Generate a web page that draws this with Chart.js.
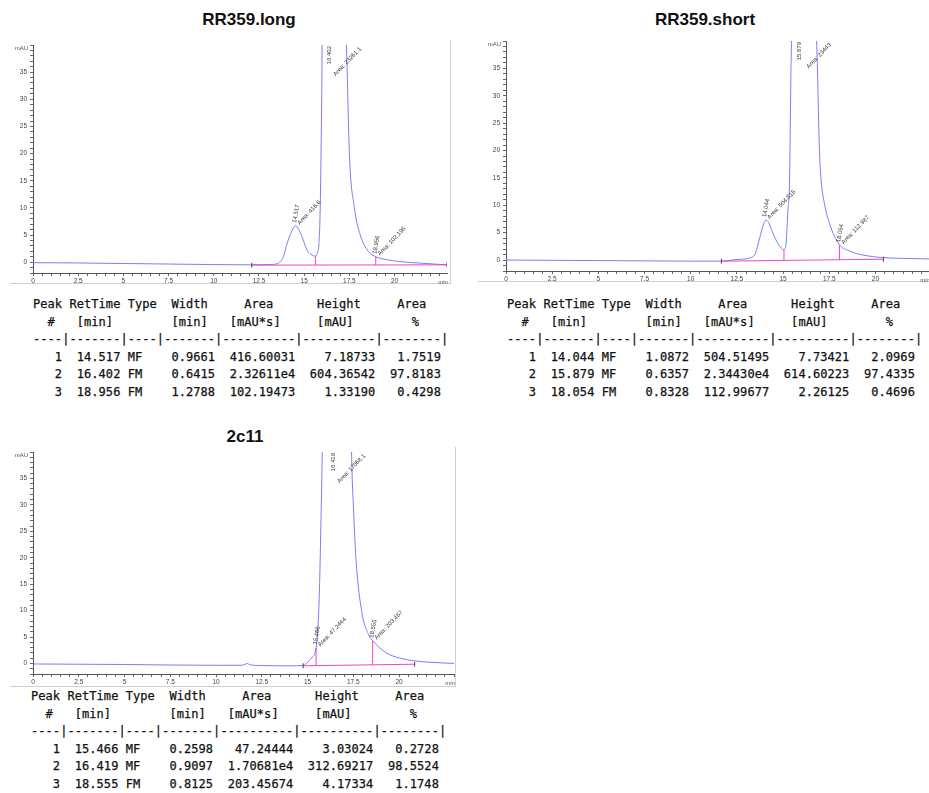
<!DOCTYPE html>
<html>
<head>
<meta charset="utf-8">
<script src="https://cdn.jsdelivr.net/npm/chart.js@4.4.1/dist/chart.umd.min.js"></script>
<style>
  body { margin:0; background:#fff; width:929px; height:793px; position:relative; overflow:hidden; font-family:"Liberation Sans", Arial, sans-serif; }
  .title { position:absolute; font-weight:bold; font-size:17px; line-height:20px; color:#111; transform:translateX(-50%); white-space:nowrap; }
  .rule { position:absolute; border-color:#cfcfcf; border-style:solid; border-width:0; }
  canvas { position:absolute; }
  pre.report { position:absolute; margin:0; font-family:"DejaVu Sans Mono", monospace; font-size:12px; line-height:17.6px; letter-spacing:0.06px; color:#111; -webkit-text-stroke:0.25px #111; }
</style>
</head>
<body>
<div class="title" style="left:249px;top:10px">RR359.long</div>
<div class="title" style="left:705px;top:10px">RR359.short</div>
<div class="title" style="left:245px;top:427px">2c11</div>

<div class="rule" style="left:10px;top:40px;width:440px;height:243px;border-right-width:1px;border-bottom-width:1px"></div>
<div class="rule" style="left:478px;top:281px;width:451px;height:0;border-top-width:1px"></div>
<div class="rule" style="left:10px;top:447px;width:445px;height:239px;border-right-width:1px;border-bottom-width:1px"></div>

<canvas id="cLong" width="452" height="249" style="left:0;top:38px"></canvas>
<canvas id="cShort" width="459" height="251" style="left:470px;top:34px"></canvas>
<canvas id="cC11" width="458" height="243" style="left:0;top:445px"></canvas>

<pre class="report" id="tLong" style="left:33px;top:296px"></pre>
<pre class="report" id="tShort" style="left:507px;top:296px"></pre>
<pre class="report" id="tC11" style="left:31px;top:688px"></pre>

<script>
// RR359.long - segnale (min, mAU)
const longTime = [0, 2.5, 5, 7.5, 10, 12, 13, 13.5, 13.68, 13.85, 14.05, 14.33, 14.52, 14.7, 14.88, 15.16, 15.44, 15.62, 15.72, 15.81, 15.88, 15.94, 15.99, 16.1, 16.25, 16.4, 16.6, 16.85, 17.1, 17.3, 17.38, 17.5, 17.78, 18.1, 18.55, 18.96, 19.5, 20.3, 21.5, 22.9];
const longSignal = [-0.1, -0.15, -0.25, -0.35, -0.45, -0.5, -0.45, -0.3, 0.1, 1.0, 3.4, 5.8, 6.7, 6.0, 4.7, 2.2, 1.3, 1.1, 1.6, 3.2, 9, 22, 40, 150, 450, 604, 450, 200, 85, 45, 35, 20, 10, 5, 2, 1.0, 0.5, 0.1, -0.2, -0.5];
const longBaseX = [12.1, 22.9];
const longBaseY = [-0.55, -0.5];
const longDropX = [15.62, 18.96];
const longDropTop = [1.1, 1.0];
const longDropBottom = [-0.54, -0.52];
const longPeakTimes = [14.517, 16.402, 18.956];
const longPeakTops = [6.7, 604.4, 1.0];
const longPeakAreas = ['416.6', '23261.1', '102.195'];

// RR359.short
const shortTime = [0, 2.5, 5, 7.5, 10, 11.66, 12.5, 13.2, 13.5, 13.73, 13.95, 14.09, 14.25, 14.45, 14.72, 14.9, 15.05, 15.17, 15.26, 15.35, 15.42, 15.47, 15.6, 15.88, 16.15, 16.45, 16.7, 16.8, 16.86, 16.97, 17.06, 17.24, 17.51, 18.05, 18.5, 18.96, 20.2, 21.5, 22.9];
const shortSignal = [0, -0.05, -0.1, -0.15, -0.2, -0.2, 0.1, 0.4, 1.2, 4.0, 6.6, 7.3, 6.6, 4.9, 3.0, 2.2, 1.9, 3.3, 9, 14.6, 33, 48, 200, 614.6, 380, 130, 60, 42, 35, 20, 14.6, 10.3, 6.7, 2.8, 1.8, 1.2, 0.5, 0.3, 0.2];
const shortBaseX = [11.66, 20.43];
const shortBaseY = [-0.2, 0.15];
const shortDropX = [15.05, 18.05];
const shortDropTop = [1.9, 2.8];
const shortDropBottom = [-0.07, 0.07];
const shortPeakTimes = [14.044, 15.879, 18.054];
const shortPeakTops = [7.3, 614.6, 2.7];
const shortPeakAreas = ['504.515', '23443', '112.987'];

// 2c11
const c11Time = [0, 2.5, 5, 7.5, 10, 11.4, 11.6, 11.7, 11.85, 12.5, 14, 14.76, 15.0, 15.2, 15.47, 15.55, 15.65, 15.72, 15.8, 16.0, 16.42, 16.9, 17.2, 17.44, 17.5, 17.64, 17.95, 18.4, 18.55, 19.3, 20.04, 20.8, 21.8, 23];
const c11Signal = [-0.1, -0.15, -0.2, -0.3, -0.35, -0.35, -0.15, 0.0, -0.25, -0.4, -0.45, -0.4, 0.2, 1.0, 3.0, 6, 14, 25, 40, 120, 312.7, 150, 75, 35, 30, 20, 10, 5, 4.3, 2, 1, 0.5, 0.2, 0];
const c11BaseX = [14.76, 20.85];
const c11BaseY = [-0.45, -0.15];
const c11DropX = [15.466, 18.555];
const c11DropTop = [3.0, 4.3];
const c11DropBottom = [-0.42, -0.27];
const c11PeakTimes = [15.466, 16.419, 18.555];
const c11PeakTops = [3.0, 312.7, 4.3];
const c11PeakAreas = ['47.2444', '17068.1', '203.457'];

// tabelle del report
const longRows = [
  ['1', '14.517', 'MF', '0.9661', '416.60031', '7.18733', '1.7519'],
  ['2', '16.402', 'FM', '0.6415', '2.32611e4', '604.36542', '97.8183'],
  ['3', '18.956', 'FM', '1.2788', '102.19473', '1.33190', '0.4298']
];
const shortRows = [
  ['1', '14.044', 'MF', '1.0872', '504.51495', '7.73421', '2.0969'],
  ['2', '15.879', 'MF', '0.6357', '2.34430e4', '614.60223', '97.4335'],
  ['3', '18.054', 'FM', '0.8328', '112.99677', '2.26125', '0.4696']
];
const c11Rows = [
  ['1', '15.466', 'MF', '0.2598', '47.24444', '3.03024', '0.2728'],
  ['2', '16.419', 'MF', '0.9097', '1.70681e4', '312.69217', '98.5524'],
  ['3', '18.555', 'FM', '0.8125', '203.45674', '4.17334', '1.1748']
];

const traceColor = '#7c7cf2';
const baseColor = '#f040c8';
const tickFont = { family: '"Liberation Sans", Arial, sans-serif', size: 6.5 };

function buildReport(rows) {
  const lines = [
    'Peak RetTime Type  Width     Area      Height     Area  ',
    '  #   [min]        [min]   [mAU*s]     [mAU]        %   ',
    '----|-------|----|-------|----------|----------|--------|'
  ];
  rows.forEach(r => {
    lines.push(r[0].padStart(4) + ' ' + r[1].padStart(7) + ' ' + r[2].padEnd(4) + ' ' +
      r[3].padStart(7) + ' ' + r[4].padStart(10) + ' ' + r[5].padStart(10) + ' ' + r[6].padStart(8));
  });
  return lines.join('\n');
}

function drawRotated(ctx, text, x, y, deg, align) {
  ctx.save();
  ctx.translate(x, y);
  ctx.rotate(deg * Math.PI / 180);
  ctx.textAlign = align;
  ctx.fillText(text, 0, 0);
  ctx.restore();
}

// etichette dei picchi + unita' degli assi
const peakLabels = {
  id: 'peakLabels',
  afterDatasetsDraw(chart, args, opts) {
    const { ctx, chartArea, scales: { x, y } } = chart;
    ctx.save();
    ctx.fillStyle = '#333';
    ctx.font = '6px "Liberation Sans", Arial, sans-serif';
    ctx.textBaseline = 'middle';
    opts.times.forEach((t, i) => {
      const px = x.getPixelForValue(t);
      const label = t.toFixed(3);
      const area = 'Area: ' + opts.areas[i];
      if (opts.tops[i] > y.max) {
        drawRotated(ctx, label, px, chartArea.top + 1, -90, 'right');
        drawRotated(ctx, area, px + 31, chartArea.top + 3, -46, 'right');
      } else {
        const py = y.getPixelForValue(opts.tops[i]);
        drawRotated(ctx, label, px - 1, py - 3, -80, 'left');
        drawRotated(ctx, area, px + 3, py - 2, -46, 'left');
      }
    });
    ctx.fillStyle = '#555';
    ctx.textAlign = 'right';
    ctx.fillText('mAU', chartArea.left - 5, chartArea.top + 3);
    ctx.textAlign = 'center';
    ctx.fillText('min', chartArea.right - 4, chartArea.bottom + 9);
    ctx.restore();
  }
};

function makeChart(id, cfg) {
  const trace = cfg.time.map((t, i) => ({ x: t, y: cfg.signal[i] }));
  const base = cfg.baseX.map((t, i) => ({ x: t, y: cfg.baseY[i] }));
  const drops = [];
  cfg.dropX.forEach((t, i) => {
    if (i > 0) drops.push({ x: t, y: null });
    drops.push({ x: t, y: cfg.dropBottom[i] }, { x: t, y: cfg.dropTop[i] });
  });

  return new Chart(document.getElementById(id), {
    type: 'line',
    data: {
      datasets: [
        { data: drops, borderColor: baseColor, borderWidth: 1, pointRadius: 0, spanGaps: false },
        { data: base, borderColor: baseColor, borderWidth: 1, pointRadius: 2.5, pointStyle: 'line', rotation: 90,
          pointBorderColor: '#444', pointBorderWidth: 1 },
        { data: trace, borderColor: traceColor, borderWidth: 1, pointRadius: 0, cubicInterpolationMode: 'monotone' }
      ]
    },
    options: {
      responsive: false,
      animation: false,
      devicePixelRatio: 1,
      layout: { autoPadding: false, padding: { top: cfg.padTop, right: cfg.padRight, left: 0, bottom: 0 } },
      plugins: {
        legend: { display: false },
        tooltip: { enabled: false },
        peakLabels: { times: cfg.peakTimes, tops: cfg.peakTops, areas: cfg.peakAreas }
      },
      scales: {
        x: {
          type: 'linear', min: 0, max: cfg.xMax,
          afterFit: s => { s.height = 14; },
          border: { color: '#555', width: 1 },
          grid: { drawOnChartArea: false, tickLength: 3, tickColor: '#666' },
          ticks: {
            stepSize: 0.5, autoSkip: false, maxRotation: 0, includeBounds: false, padding: 1,
            font: tickFont, color: '#444',
            callback: v => {
              const k = v / 2.5;
              return (Math.abs(k - Math.round(k)) < 1e-6 && v <= 20) ? String(v) : '';
            }
          }
        },
        y: {
          min: -2, max: 40,
          afterFit: s => { s.width = cfg.axisWidth; },
          border: { color: '#555', width: 1 },
          grid: { drawOnChartArea: false, tickLength: 3, tickColor: '#666' },
          ticks: {
            stepSize: 1, autoSkip: false, includeBounds: false, padding: 3,
            font: tickFont, color: '#444',
            callback: v => (v % 5 === 0 && v >= 0 && v < 40) ? String(v) : ''
          }
        }
      }
    },
    plugins: [peakLabels]
  });
}

makeChart('cLong', {
  time: longTime, signal: longSignal, baseX: longBaseX, baseY: longBaseY,
  dropX: longDropX, dropTop: longDropTop, dropBottom: longDropBottom,
  peakTimes: longPeakTimes, peakTops: longPeakTops, peakAreas: longPeakAreas,
  xMax: 22.9, axisWidth: 33, padTop: 7, padRight: 5
});
makeChart('cShort', {
  time: shortTime, signal: shortSignal, baseX: shortBaseX, baseY: shortBaseY,
  dropX: shortDropX, dropTop: shortDropTop, dropBottom: shortDropBottom,
  peakTimes: shortPeakTimes, peakTops: shortPeakTops, peakAreas: shortPeakAreas,
  xMax: 22.9, axisWidth: 36, padTop: 7, padRight: 0
});
makeChart('cC11', {
  time: c11Time, signal: c11Signal, baseX: c11BaseX, baseY: c11BaseY,
  dropX: c11DropX, dropTop: c11DropTop, dropBottom: c11DropBottom,
  peakTimes: c11PeakTimes, peakTops: c11PeakTops, peakAreas: c11PeakAreas,
  xMax: 23.0, axisWidth: 33, padTop: 7, padRight: 4
});

document.getElementById('tLong').textContent = buildReport(longRows);
document.getElementById('tShort').textContent = buildReport(shortRows);
document.getElementById('tC11').textContent = buildReport(c11Rows);
</script>
</body>
</html>
